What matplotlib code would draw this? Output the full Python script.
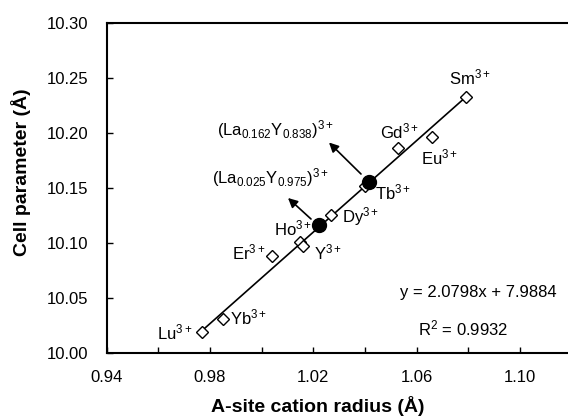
import matplotlib
matplotlib.use('Agg')
import matplotlib.pyplot as plt
import matplotlib.ticker as ticker

plt.rcParams['font.family'] = ['Liberation Sans', 'DejaVu Sans']
plt.rcParams['mathtext.fontset'] = 'custom'
plt.rcParams['mathtext.rm'] = 'Liberation Sans'
plt.rcParams['mathtext.it'] = 'Liberation Sans'

# ion labels, radius (A) and cell parameter (A)
ions = ['Sm', 'Eu', 'Gd', 'Tb', 'Dy', 'Ho', 'Y', 'Er', 'Yb', 'Lu']
radius = [1.079, 1.066, 1.053, 1.040, 1.027, 1.015, 1.016, 1.004, 0.985, 0.977]
cell = [10.2325, 10.1967, 10.186, 10.152, 10.1255, 10.1012, 10.0976, 10.0882, 10.031, 10.0188]

# mixed (La,Y) compositions
mix_labels = [r'(La$_{0.162}$Y$_{0.838}$)$^{3+}$', r'(La$_{0.025}$Y$_{0.975}$)$^{3+}$']
mix_radius = [1.0417, 1.0222]
mix_cell = [10.1557, 10.1164]

# linear fit reported on the chart
slope = 2.0798
intercept = 7.9884
r2 = 0.9932

xticks = [0.94, 0.98, 1.02, 1.06, 1.10]
xminor = [0.96, 1.00, 1.04, 1.08]
yticks = [10.00, 10.05, 10.10, 10.15, 10.20, 10.25, 10.30]

W, H = 568, 419
fig = plt.figure(figsize=(W / 100, H / 100), dpi=100)
ax = fig.add_axes([106.5 / W, 1 - 353 / H, (571.5 - 106.5) / W, 330 / H])


def px(x, y):
    # pixel position -> figure fraction
    return x / W, 1 - y / H


xfit = [min(radius), max(radius)]
yfit = [slope * v + intercept for v in xfit]
ax.plot(xfit, yfit, color='black', lw=1.2, zorder=2)
ax.plot(radius, cell, 'D', ms=6.5, mfc='white', mec='black', mew=1.0, zorder=3)
ax.plot(mix_radius, mix_cell, 'o', ms=10, color='black', zorder=4)

ax.set_xlim(0.94, 1.12)
ax.set_ylim(10.0, 10.30)
ax.xaxis.set_major_locator(ticker.FixedLocator(xticks))
ax.xaxis.set_minor_locator(ticker.FixedLocator(xminor))
ax.xaxis.set_major_formatter(ticker.FormatStrFormatter('%.2f'))
ax.yaxis.set_major_locator(ticker.FixedLocator(yticks))
ax.yaxis.set_major_formatter(ticker.FormatStrFormatter('%.2f'))
ax.tick_params(axis='both', which='both', direction='in', length=4, width=1, labelsize=12)
ax.tick_params(axis='x', pad=12)
ax.tick_params(axis='y', pad=13)
for s in ['left', 'bottom', 'top']:
    ax.spines[s].set_linewidth(1.5)
ax.spines['right'].set_visible(False)

# ion labels (pixel positions)
label_pos = {
    'Sm': (470, 77), 'Gd': (400, 131), 'Eu': (440, 157), 'Tb': (393, 192),
    'Dy': (361, 217), 'Ho': (293, 228), 'Y': (328, 252), 'Er': (249, 252),
    'Yb': (249, 317), 'Lu': (175, 332),
}
for ion in ions:
    x, y = px(*label_pos[ion])
    fig.text(x, y, ion + r'$^{3+}$', ha='center', va='center', fontsize=12)

mix_pos = [(275, 130), (270, 178)]
for lab, (x0, y0) in zip(mix_labels, mix_pos):
    x, y = px(x0, y0)
    fig.text(x, y, lab, ha='center', va='center', fontsize=12)

arrows = [((361, 174), (329, 142.5)), ((311, 219), (288, 198))]
for (tx, ty), (hx, hy) in arrows:
    ax.annotate('', xy=px(hx, hy), xycoords='figure fraction',
                xytext=px(tx, ty), textcoords='figure fraction',
                arrowprops=dict(arrowstyle='-|>', color='black', lw=1.2,
                                mutation_scale=14, shrinkA=0, shrinkB=0))

x, y = px(478, 293)
fig.text(x, y, f'y = {slope}x + {intercept}', ha='center', va='center', fontsize=12)
x, y = px(463, 328)
fig.text(x, y, r'R$^2$ = ' + f'{r2}', ha='center', va='center', fontsize=12)

x, y = px(318, 406)
fig.text(x, y, 'A-site cation radius (Å)', ha='center', va='center',
         fontsize=14, fontweight='bold')
x, y = px(21, 172)
fig.text(x, y, 'Cell parameter (Å)', ha='center', va='center', rotation=90,
         fontsize=14, fontweight='bold')

fig.savefig('out.png', dpi=100)
